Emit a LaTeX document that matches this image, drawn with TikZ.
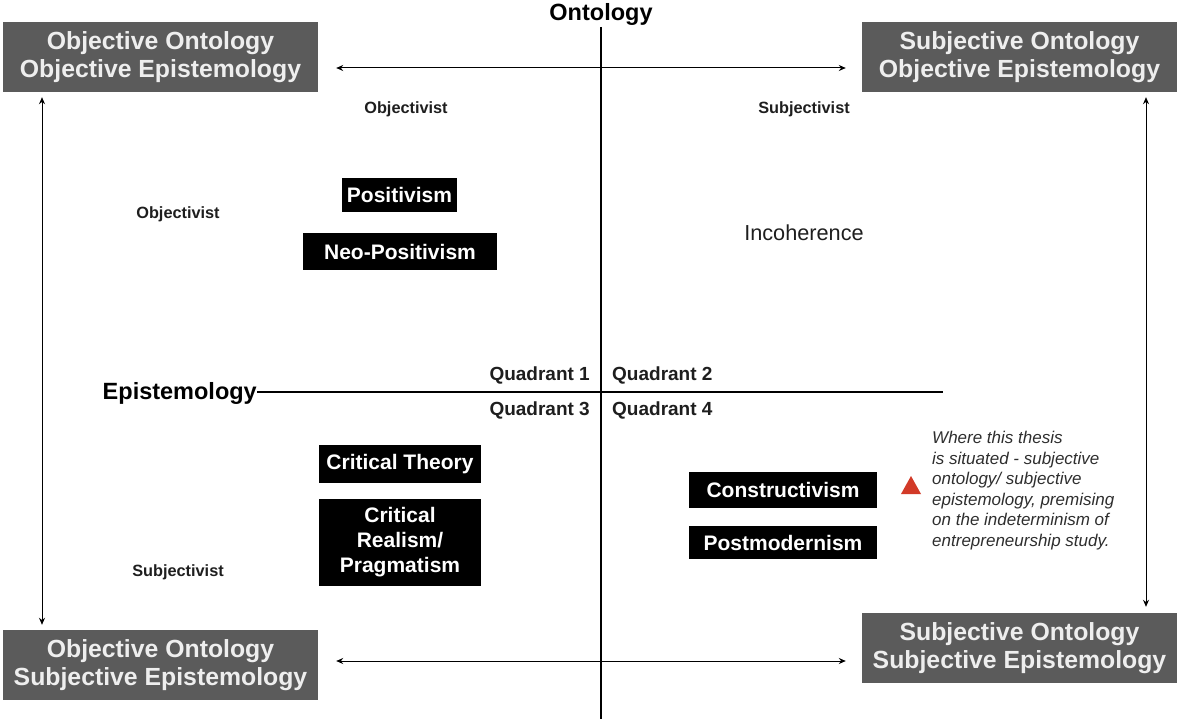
\documentclass[tikz,border=0pt]{standalone}
\usepackage{fontspec}
\setmainfont{Liberation Sans}
\usetikzlibrary{arrows.meta,calc}
\definecolor{cornergray}{HTML}{5B5B5B}
\definecolor{cornertext}{HTML}{EEEEEE}
\definecolor{labelink}{HTML}{1E1E1E}
\definecolor{notegray}{HTML}{2E2E2E}
\definecolor{markred}{HTML}{D23A28}
\tikzset{
  cornerbox/.style={fill=cornergray, text=cornertext, inner sep=0pt,
    minimum width=315pt, minimum height=70pt, align=center,
    font=\fontsize{24.8}{28}\selectfont\bfseries},
  parabox/.style={fill=black, text=white, inner sep=0pt, align=center,
    font=\fontsize{21}{25}\selectfont\bfseries},
  smalllabel/.style={text=labelink, inner sep=0pt,
    font=\fontsize{16.3}{18}\selectfont\bfseries},
  quadlabel/.style={text=labelink, inner sep=0pt,
    font=\fontsize{19}{20}\selectfont\bfseries},
  axislabel/.style={text=black, inner sep=0pt,
    font=\fontsize{23.5}{25}\selectfont\bfseries},
  dblarrow/.style={line width=1pt, {Stealth[length=7pt,width=6pt]}-{Stealth[length=7pt,width=6pt]}},
  axisline/.style={line width=1.1pt}
}
\begin{document}
\begin{tikzpicture}[x=1pt,y=-1pt]
\useasboundingbox (0,0) rectangle (1178,719);
% corner boxes
\node[cornerbox] (TL) at (160.5,57) {Objective Ontology\\Objective Epistemology};
\node[cornerbox] (TR) at (1019.5,57) {Subjective Ontology\\Objective Epistemology};
\node[cornerbox] (BL) at (160.5,665) {Objective Ontology\\Subjective Epistemology};
\node[cornerbox] (BR) at (1019.5,648) {Subjective Ontology\\Subjective Epistemology};
% axes
\node[axislabel] (onto) at (601,14) {Ontology};
\node[axislabel, anchor=east] (epi) at (257,393) {Epistemology};
\coordinate (vbot) at (601,719);
\coordinate (hend) at (943,392);
\draw[axisline] (onto.south |- 0,27) -- (vbot);
\draw[axisline] (epi.east |- hend) -- (hend);
% arrows
\coordinate (ta1) at (336,68);
\coordinate (ta2) at (846,68);
\draw[dblarrow] (ta1 -| TL.east) ++(18,0) -- ($(ta2 -| TR.west)+(-16,0)$);
\coordinate (ba1) at (336,661);
\coordinate (ba2) at (846,661);
\draw[dblarrow] (ba1 -| BL.east) ++(18,0) -- ($(ba2 -| BR.west)+(-16,0)$);
\coordinate (la) at (42,0);
\draw[dblarrow] ($(la |- TL.south)+(0,5)$) -- ($(la |- BL.north)+(0,-5)$);
\coordinate (ra) at (1146,0);
\draw[dblarrow] ($(ra |- TR.south)+(0,5)$) -- ($(ra |- BR.north)+(0,-6)$);
% small labels
\node[smalllabel] (obj1) at (406,109) {Objectivist};
\node[smalllabel] (sub1) at (804,109) {Subjectivist};
\node[smalllabel] (obj2) at (178,214) {Objectivist};
\node[smalllabel] (sub2) at (178,572) {Subjectivist};
% quadrants
\node[quadlabel, anchor=east] (q1) at (590,375) {Quadrant 1};
\node[quadlabel, anchor=west] (q2) at (612,375) {Quadrant 2};
\node[quadlabel, anchor=east] (q3) at (590,410) {Quadrant 3};
\node[quadlabel, anchor=west] (q4) at (612,410) {Quadrant 4};
% paradigm boxes
\node[parabox, minimum width=115pt, minimum height=34pt] (pos) at (399.5,195) {Positivism};
\node[parabox, minimum width=194pt, minimum height=37pt] (neo) at (400,251.5) {Neo-Positivism};
\node[parabox, minimum width=162pt, minimum height=38pt] (ct) at (400,464) {Critical Theory};
\node[parabox, minimum width=162pt, minimum height=87pt] (cr) at (400,542.5) {Critical\\Realism/\\Pragmatism};
\node[parabox, minimum width=188pt, minimum height=36pt] (con) at (783,490) {Constructivism};
\node[parabox, minimum width=188pt, minimum height=33pt] (pm) at (783,542.5) {Postmodernism};
% incoherence
\node[text=labelink, inner sep=0pt, font=\fontsize{21.7}{24}\selectfont] (inc) at (804,233) {Incoherence};
% red marker and note
\fill[markred] (901,494) -- (921,494) -- (911,476) -- cycle;
\node[text=notegray, inner sep=0pt, anchor=north west, align=left,
  font=\fontsize{17}{20.6}\selectfont\itshape] (note) at (932,431)
  {Where this thesis\\is situated - subjective\\ontology/ subjective\\epistemology, premising\\on the indeterminism of\\entrepreneurship study.};
\end{tikzpicture}
\end{document}
